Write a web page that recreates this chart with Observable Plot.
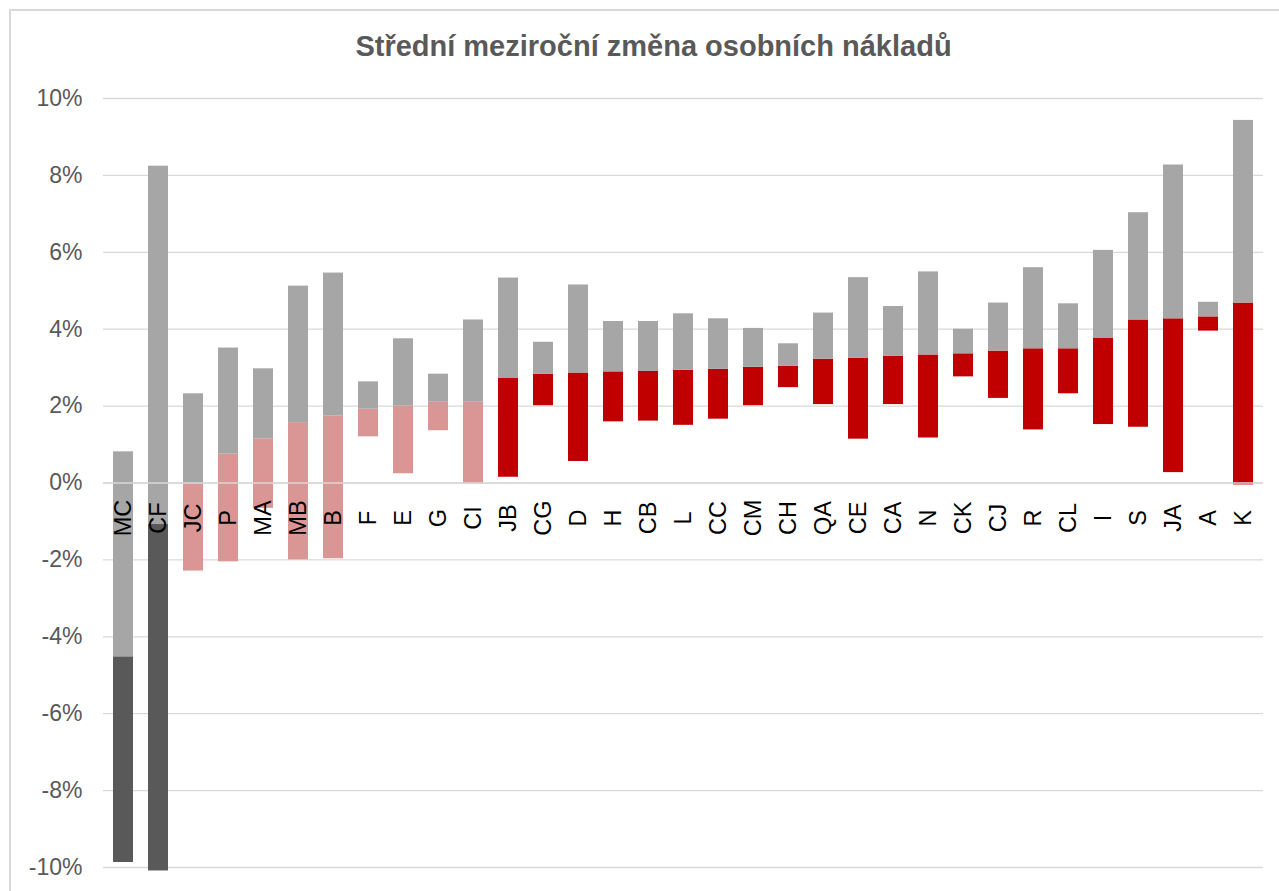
<!DOCTYPE html>
<html>
<head>
<meta charset="utf-8">
<script src="https://cdn.jsdelivr.net/npm/d3@7"></script>
<script src="https://cdn.jsdelivr.net/npm/@observablehq/plot@0.6"></script>
<style>
  html, body { margin: 0; padding: 0; background: #fff; }
  #wrap { position: relative; width: 1279px; height: 891px; overflow: hidden; font-family: "Liberation Sans", Arial, sans-serif; }
  #frame { position: absolute; left: 9px; top: 9px; width: 1400px; height: 1000px; border-top: 2px solid #d9d9d9; border-left: 2px solid #d9d9d9; pointer-events: none; }
  #title { position: absolute; left: 14px; top: 32px; width: 1279px; text-align: center; font-size: 29px; line-height: 29px; font-weight: bold; color: #595959; }
  #chart { position: absolute; left: 0; top: 0; }
</style>
</head>
<body>
<div id="wrap">
  <div id="frame"></div>
  <div id="chart"></div>
  <div id="title">Střední meziroční změna osobních nákladů</div>
</div>
<script>
const categories = ["MC","CF","JC","P","MA","MB","B","F","E","G","CI","JB","CG","D","H","CB","L","CC","CM","CH","QA","CE","CA","N","CK","CJ","R","CL","I","S","JA","A","K"];
const low    = [-9.87,-10.09,-2.29,-2.05,-0.66,-2.00,-1.97,1.20,0.24,1.36,-0.02,0.15,2.01,0.56,1.59,1.61,1.50,1.66,2.01,2.48,2.04,1.14,2.04,1.17,2.76,2.20,1.38,2.32,1.52,1.45,0.27,3.95,-0.05];
const median = [-4.52,-1.08,-0.02,0.75,1.15,1.57,1.74,1.92,2.00,2.10,2.10,2.73,2.83,2.86,2.89,2.90,2.93,2.96,3.01,3.04,3.22,3.24,3.30,3.33,3.36,3.43,3.49,3.49,3.77,4.24,4.27,4.32,4.68];
const high   = [0.81,8.24,2.32,3.51,2.97,5.12,5.46,2.63,3.75,2.83,4.24,5.33,3.66,5.15,4.20,4.20,4.40,4.27,4.02,3.62,4.42,5.34,4.59,5.49,4.00,4.68,5.60,4.66,6.05,7.03,8.27,4.70,9.43];
const groups = ["dark","dark","pink","pink","pink","pink","pink","pink","pink","pink","pink","red","red","red","red","red","red","red","red","red","red","red","red","red","red","red","red","red","red","red","red","red","red"];
const yTicks = [-10,-8,-6,-4,-2,0,2,4,6,8,10];

const data = categories.map((c, i) => ({cat: c, low: low[i], median: median[i], high: high[i], group: groups[i]}));

const chart = Plot.plot({
  width: 1279,
  height: 891,
  marginTop: 98,
  marginBottom: 24,
  marginLeft: 103,
  marginRight: 16,
  style: {fontFamily: "'Liberation Sans', Arial, sans-serif", background: "transparent"},
  x: {domain: categories, paddingInner: 0.44, paddingOuter: 0.22, axis: null},
  y: {domain: [-10, 10], axis: null},
  color: {domain: ["dark","pink","red"], range: ["#595959","#da9694","#c00000"]},
  marks: [
    Plot.gridY(yTicks, {stroke: "#d9d9d9", strokeOpacity: 1, strokeWidth: 1.3}),
    Plot.barY(data, {x: "cat", y1: "low", y2: "median", fill: "group"}),
    Plot.barY(data, {x: "cat", y1: "median", y2: "high", fill: "#a6a6a6"}),
    Plot.ruleY([0], {stroke: "#d9d9d9", strokeWidth: 1.5}),
    Plot.axisY({ticks: yTicks, tickSize: 0, tickPadding: 21, fontSize: 23, fill: "#595959", tickFormat: d => `${d}%`}),
    Plot.text(data, {x: "cat", y: () => 0, text: "cat", rotate: -90, dy: 35, textAnchor: "middle", fontSize: 23.5, fill: "#000"})
  ]
});
document.getElementById("chart").appendChild(chart);
</script>
</body>
</html>
